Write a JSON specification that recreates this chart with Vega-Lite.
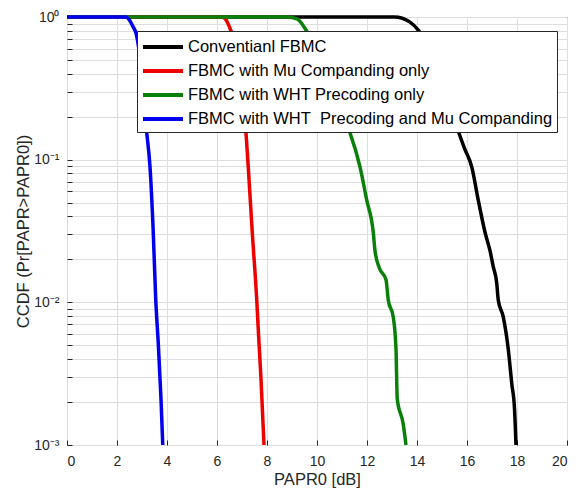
{
  "$schema": "https://vega.github.io/schema/vega-lite/v6.json",
  "width": 500,
  "height": 428,
  "autosize": {"type": "none"},
  "padding": {"left": 67, "top": 17, "right": 17, "bottom": 48},
  "background": "white",
  "config": {
    "view": {"stroke": "#262626", "strokeWidth": 1},
    "font": "Liberation Sans",
    "axis": {
      "labelFont": "Liberation Sans",
      "titleFont": "Liberation Sans",
      "labelFontSize": 14,
      "titleFontSize": 16.5,
      "titleFontWeight": "normal",
      "labelColor": "#262626",
      "titleColor": "#262626",
      "tickColor": "#262626",
      "domain": false,
      "gridColor": "#dedede",
      "gridWidth": 1
    },
    "legend": {
      "labelFont": "Liberation Sans",
      "labelFontSize": 16.5,
      "labelColor": "#000000"
    }
  },
  "data": {
    "values": [
      {"s": "Conventianl FBMC", "x": 0, "y": 1},
      {"s": "Conventianl FBMC", "x": 13.1, "y": 1},
      {"s": "Conventianl FBMC", "x": 13.72, "y": 0.92},
      {"s": "Conventianl FBMC", "x": 14.05, "y": 0.81},
      {"s": "Conventianl FBMC", "x": 14.6, "y": 0.55},
      {"s": "Conventianl FBMC", "x": 15.1, "y": 0.32},
      {"s": "Conventianl FBMC", "x": 15.59, "y": 0.17},
      {"s": "Conventianl FBMC", "x": 15.9, "y": 0.12},
      {"s": "Conventianl FBMC", "x": 16.19, "y": 0.089},
      {"s": "Conventianl FBMC", "x": 16.45, "y": 0.052},
      {"s": "Conventianl FBMC", "x": 16.72, "y": 0.031},
      {"s": "Conventianl FBMC", "x": 16.92, "y": 0.023},
      {"s": "Conventianl FBMC", "x": 17.05, "y": 0.0178},
      {"s": "Conventianl FBMC", "x": 17.19, "y": 0.0136},
      {"s": "Conventianl FBMC", "x": 17.25, "y": 0.0104},
      {"s": "Conventianl FBMC", "x": 17.45, "y": 0.0079},
      {"s": "Conventianl FBMC", "x": 17.65, "y": 0.0047},
      {"s": "Conventianl FBMC", "x": 17.79, "y": 0.0027},
      {"s": "Conventianl FBMC", "x": 17.9, "y": 0.0018},
      {"s": "Conventianl FBMC", "x": 17.96, "y": 0.001},
      {"s": "FBMC with Mu Companding only", "x": 0, "y": 1},
      {"s": "FBMC with Mu Companding only", "x": 6.2, "y": 1},
      {"s": "FBMC with Mu Companding only", "x": 6.35, "y": 0.96},
      {"s": "FBMC with Mu Companding only", "x": 6.5, "y": 0.85},
      {"s": "FBMC with Mu Companding only", "x": 6.59, "y": 0.77},
      {"s": "FBMC with Mu Companding only", "x": 6.85, "y": 0.45},
      {"s": "FBMC with Mu Companding only", "x": 7.05, "y": 0.26},
      {"s": "FBMC with Mu Companding only", "x": 7.16, "y": 0.154},
      {"s": "FBMC with Mu Companding only", "x": 7.25, "y": 0.089},
      {"s": "FBMC with Mu Companding only", "x": 7.41, "y": 0.031},
      {"s": "FBMC with Mu Companding only", "x": 7.59, "y": 0.0104},
      {"s": "FBMC with Mu Companding only", "x": 7.66, "y": 0.006},
      {"s": "FBMC with Mu Companding only", "x": 7.76, "y": 0.0029},
      {"s": "FBMC with Mu Companding only", "x": 7.82, "y": 0.0017},
      {"s": "FBMC with Mu Companding only", "x": 7.88, "y": 0.001},
      {"s": "FBMC with WHT Precoding only", "x": 0, "y": 1},
      {"s": "FBMC with WHT Precoding only", "x": 8.8, "y": 1},
      {"s": "FBMC with WHT Precoding only", "x": 9.2, "y": 0.97},
      {"s": "FBMC with WHT Precoding only", "x": 9.64, "y": 0.77},
      {"s": "FBMC with WHT Precoding only", "x": 10.1, "y": 0.55},
      {"s": "FBMC with WHT Precoding only", "x": 10.6, "y": 0.33},
      {"s": "FBMC with WHT Precoding only", "x": 11.0, "y": 0.21},
      {"s": "FBMC with WHT Precoding only", "x": 11.32, "y": 0.154},
      {"s": "FBMC with WHT Precoding only", "x": 11.72, "y": 0.089},
      {"s": "FBMC with WHT Precoding only", "x": 11.99, "y": 0.052},
      {"s": "FBMC with WHT Precoding only", "x": 12.25, "y": 0.031},
      {"s": "FBMC with WHT Precoding only", "x": 12.32, "y": 0.023},
      {"s": "FBMC with WHT Precoding only", "x": 12.49, "y": 0.0175},
      {"s": "FBMC with WHT Precoding only", "x": 12.76, "y": 0.0144},
      {"s": "FBMC with WHT Precoding only", "x": 12.85, "y": 0.0104},
      {"s": "FBMC with WHT Precoding only", "x": 13.05, "y": 0.0079},
      {"s": "FBMC with WHT Precoding only", "x": 13.16, "y": 0.0047},
      {"s": "FBMC with WHT Precoding only", "x": 13.21, "y": 0.0021},
      {"s": "FBMC with WHT Precoding only", "x": 13.45, "y": 0.0014},
      {"s": "FBMC with WHT Precoding only", "x": 13.56, "y": 0.001},
      {"s": "FBMC with WHT\u00a0 Precoding and Mu Companding", "x": 0, "y": 1},
      {"s": "FBMC with WHT\u00a0 Precoding and Mu Companding", "x": 2.35, "y": 1},
      {"s": "FBMC with WHT\u00a0 Precoding and Mu Companding", "x": 2.5, "y": 0.95},
      {"s": "FBMC with WHT\u00a0 Precoding and Mu Companding", "x": 2.65, "y": 0.85},
      {"s": "FBMC with WHT\u00a0 Precoding and Mu Companding", "x": 2.76, "y": 0.77},
      {"s": "FBMC with WHT\u00a0 Precoding and Mu Companding", "x": 2.95, "y": 0.45},
      {"s": "FBMC with WHT\u00a0 Precoding and Mu Companding", "x": 3.05, "y": 0.26},
      {"s": "FBMC with WHT\u00a0 Precoding and Mu Companding", "x": 3.19, "y": 0.154},
      {"s": "FBMC with WHT\u00a0 Precoding and Mu Companding", "x": 3.32, "y": 0.089},
      {"s": "FBMC with WHT\u00a0 Precoding and Mu Companding", "x": 3.45, "y": 0.031},
      {"s": "FBMC with WHT\u00a0 Precoding and Mu Companding", "x": 3.55, "y": 0.0104},
      {"s": "FBMC with WHT\u00a0 Precoding and Mu Companding", "x": 3.65, "y": 0.0052},
      {"s": "FBMC with WHT\u00a0 Precoding and Mu Companding", "x": 3.76, "y": 0.0021},
      {"s": "FBMC with WHT\u00a0 Precoding and Mu Companding", "x": 3.83, "y": 0.001}
    ]
  },
  "mark": {"type": "line", "strokeWidth": 3.5, "clip": false, "interpolate": "monotone"},
  "encoding": {
    "x": {
      "field": "x",
      "type": "quantitative",
      "scale": {"domain": [0, 20], "nice": false, "zero": false},
      "axis": {
        "values": [0, 2, 4, 6, 8, 10, 12, 14, 16, 18, 20],
        "title": "PAPR0 [dB]",
        "tickSize": -5,
        "labelPadding": 14,
        "titlePadding": 3
      }
    },
    "y": {
      "field": "y",
      "type": "quantitative",
      "scale": {"type": "log", "domain": [0.001, 1], "nice": false},
      "axis": {
        "values": [0.001, 0.002, 0.003, 0.004, 0.005, 0.006, 0.007, 0.008, 0.009, 0.01, 0.02, 0.03, 0.04, 0.05, 0.06, 0.07, 0.08, 0.09, 0.1, 0.2, 0.3, 0.4, 0.5, 0.6, 0.7, 0.8, 0.9, 1],
        "labelExpr": "datum.value == 1 ? '10⁰' : datum.value == 0.1 ? '10⁻¹' : datum.value == 0.01 ? '10⁻²' : datum.value == 0.001 ? '10⁻³' : ''",
        "title": "CCDF (Pr[PAPR>PAPR0])",
        "tickSize": -5,
        "labelPadding": 13,
        "titlePadding": 2
      }
    },
    "color": {
      "field": "s",
      "type": "nominal",
      "sort": ["Conventianl FBMC", "FBMC with Mu Companding only", "FBMC with WHT Precoding only", "FBMC with WHT\u00a0 Precoding and Mu Companding"],
      "scale": {
        "domain": ["Conventianl FBMC", "FBMC with Mu Companding only", "FBMC with WHT Precoding only", "FBMC with WHT\u00a0 Precoding and Mu Companding"],
        "range": ["#000000", "#ee0000", "#0a800a", "#0000ee"]
      },
      "legend": {
        "title": null,
        "orient": "none",
        "legendX": 70,
        "legendY": 14,
        "symbolType": "M-2,0H2",
        "symbolSize": 400,
        "symbolStrokeWidth": 4,
        "symbolOffset": 10,
        "fillColor": "white",
        "strokeColor": "#262626",
        "padding": 4,
        "rowPadding": 3,
        "labelOffset": 13,
        "labelLimit": 500
      }
    }
  }
}
